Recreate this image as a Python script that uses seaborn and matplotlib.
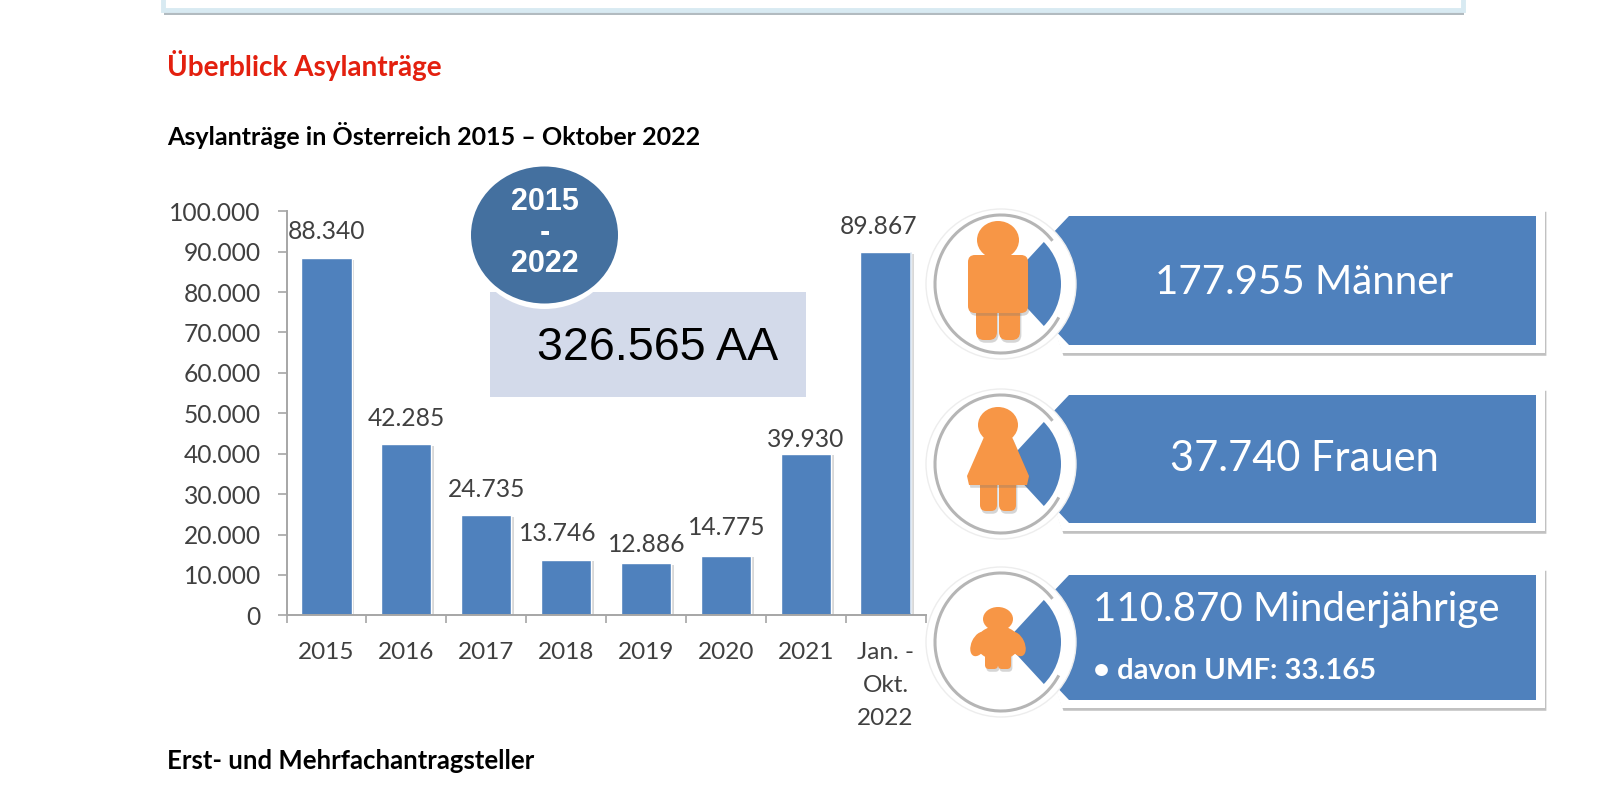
import numpy as np
import pandas as pd
import matplotlib
matplotlib.use('Agg')
import matplotlib.pyplot as plt
import matplotlib.patheffects as pe
from matplotlib.patches import Arc, Circle, Ellipse, Polygon, Rectangle, FancyBboxPatch
from matplotlib.ticker import FuncFormatter
import seaborn as sns

# data
periods = ['2015', '2016', '2017', '2018', '2019', '2020', '2021', 'Jan. -\nOkt.\n2022']
antraege = [88340, 42285, 24735, 13746, 12886, 14775, 39930, 89867]
value_labels = ['88.340', '42.285', '24.735', '13.746', '12.886', '14.775', '39.930', '89.867']
# label shift against the bar top, in pixels
label_dx = [0, 0, 0, -8, 1, 1, 0, -7]
label_dy = [27, 26, 26, 26, 19, 28, 14, 26]

BLUE = '#4F81BD'
ORANGE = '#F79646'
GREY_TXT = '#404040'
W, H = 1616, 809

sns.set_theme(style='white')
plt.rcParams['font.family'] = ['Lato', 'DejaVu Sans']

fig = plt.figure(figsize=(W / 100, H / 100), dpi=100, facecolor='white')

# bar chart, placed in pixels
ax = fig.add_axes([286.5 / W, 1 - 615.3 / H, 639 / W, 404 / H])
df = pd.DataFrame({'period': periods, 'antraege': antraege})
sns.barplot(data=df, x='period', y='antraege', color=BLUE, saturation=1, width=0.63, ax=ax)
ax.set_ylim(0, 100000)
ax.set_xlim(-0.5, 7.5)
ax.set_xlabel('')
ax.set_ylabel('')
ax.set_yticks(np.arange(0, 100001, 10000))
ax.yaxis.set_major_formatter(FuncFormatter(lambda v, p: f'{int(v):,}'.replace(',', '.')))
ax.set_xticks(np.arange(-0.5, 8), minor=True)
ax.tick_params(axis='x', which='major', length=0, pad=19.5, labelsize=17.5, labelcolor=GREY_TXT)
ax.tick_params(axis='x', which='minor', length=6, width=1.2, color='#a6a6a6', bottom=True)
ax.tick_params(axis='y', length=6.5, width=1.2, color='#a6a6a6', pad=12, labelsize=17.7,
               labelcolor=GREY_TXT, left=True)
for lab in ax.get_xticklabels():
    lab.set_linespacing(1.7)
sns.despine(ax=ax)
for s in ['left', 'bottom']:
    ax.spines[s].set_color('#a6a6a6')
    ax.spines[s].set_linewidth(1.4)
for bar in ax.patches:
    bar.set_path_effects([pe.SimplePatchShadow(offset=(2, -1), shadow_rgbFace='#808080', alpha=0.3), pe.Normal()])
for i, v in enumerate(antraege):
    ax.annotate(value_labels[i], (i, v), xytext=(label_dx[i] * 0.72, label_dy[i] * 0.72),
                textcoords='offset points', ha='center', va='center', fontsize=17.7, color=GREY_TXT,
                annotation_clip=False)

# everything around the chart, drawn in pixel coordinates
ov = fig.add_axes([0, 0, 1, 1], zorder=5)
ov.set_xlim(0, W)
ov.set_ylim(H, 0)
ov.axis('off')
ov.patch.set_alpha(0)

# box cut off at the top
ov.add_patch(Rectangle((164, -20), 1300, 35, fc='#7f8f96', ec='none', alpha=0.6))
ov.add_patch(Rectangle((163, -20), 1300, 30, fc='white', ec='#D8EAF2', lw=3.5))

ov.text(167, 65, 'Überblick Asylanträge', color='#E3200F', fontsize=20.1, fontweight='bold', va='center')
ov.text(167, 135, 'Asylanträge in Österreich 2015 – Oktober 2022', color='black', fontsize=18,
        fontweight='bold', va='center')
ov.text(167, 761, 'Erst- und Mehrfachantragsteller', color='black', fontsize=18.5, fontweight='bold', va='center')

# total box with round badge
ov.add_patch(Rectangle((489.5, 292), 316.5, 105, fc='#D3DAEA', ec='none'))
ov.text(658, 348, '326.565 AA', fontsize=33.6, family='Liberation Sans', color='black', ha='center', va='center')
ov.add_patch(Ellipse((544.5, 238), 150, 142, fc='white', ec='none'))
ov.add_patch(Ellipse((544.5, 235), 147, 137, fc='#44709F', ec='none'))
ov.text(544.5, 233, '2015\n-\n2022', fontsize=22, fontweight='bold', family='Liberation Sans', color='white',
        ha='center', va='center', linespacing=1.05)

# thin frame line behind the badges
ov.plot([911, 911], [253, 613], color='#DCE6F2', lw=1.2)


def callout(top, bot, cy):
    cx = 1001
    ov.add_patch(Polygon([(1070, top - 7), (1545, top - 7), (1545, bot + 8), (1062, bot + 8), (1040, cy)],
                         fc='white', ec='none',
                         path_effects=[pe.SimplePatchShadow(offset=(1, -2), shadow_rgbFace='#666666', alpha=0.4),
                                       pe.Normal()]))
    ov.add_patch(Polygon([(1069, top), (1536, top), (1536, bot), (1069, bot), (1050, bot - 20), (1050, top + 20)],
                         fc=BLUE, ec='none'))
    # faint halo, white ring, grey arc on the open side
    ov.add_patch(Circle((cx, cy), 75, fc='white', ec='#ededed', lw=1))
    ov.add_patch(Arc((cx, cy), 132, 138, theta1=30, theta2=320, color='#b5b5b5', lw=2.2))
    clip = Circle((cx, cy), 60, transform=ov.transData)
    wedge = Polygon([(1005, cy), (1090, cy - 92), (1090, cy + 92)], fc=BLUE, ec='none')
    ov.add_patch(wedge)
    wedge.set_clip_path(clip)


callout(216, 345, 284)
callout(395, 523, 464)
callout(575, 700, 642)

# figures
shadow = [pe.SimplePatchShadow(offset=(1, -2), shadow_rgbFace='#777777', alpha=0.3), pe.Normal()]
def orange_box(x, y, w, h, r=5):
    ov.add_patch(FancyBboxPatch((x + r, y + r), w - 2 * r, h - 2 * r, boxstyle=f'round,pad={r}', fc=ORANGE,
                                ec='none', path_effects=shadow))

# man
orange_box(976, 300, 21, 40, r=8)
orange_box(999, 300, 21, 40, r=8)
orange_box(968, 255, 60, 58, r=7)
ov.add_patch(Ellipse((998, 240), 42, 38, fc=ORANGE, ec='none'))
# woman
orange_box(980, 478, 17, 33, r=6)
orange_box(999, 478, 17, 33, r=6)
ov.add_patch(Polygon([(984, 437), (1012, 437), (1029, 476), (1027, 485), (969, 485), (967, 476)], fc=ORANGE,
                     ec='none', path_effects=shadow))
ov.add_patch(Ellipse((998, 425), 40, 36, fc=ORANGE, ec='none'))
# child
orange_box(985, 650, 13, 19, r=4)
orange_box(998, 650, 13, 19, r=4)
ov.add_patch(Ellipse((998, 643), 44, 34, fc=ORANGE, ec='none'))
ov.add_patch(Ellipse((979, 644), 15, 26, angle=25, fc=ORANGE, ec='none'))
ov.add_patch(Ellipse((1017, 644), 15, 26, angle=-25, fc=ORANGE, ec='none'))
ov.add_patch(Ellipse((998, 619), 30, 24, fc=ORANGE, ec='none'))

# callout texts
ov.text(1304, 282, '177.955 Männer', fontsize=29, color='white', ha='center', va='center')
ov.text(1304, 459, '37.740 Frauen', fontsize=30, color='white', ha='center', va='center')
ov.text(1093, 610, '110.870 Minderjährige', fontsize=29, color='white', ha='left', va='center')
ov.text(1093, 671, '• davon UMF: 33.165', fontsize=21, fontweight='bold', color='white', ha='left', va='center')

fig.savefig('out.png', dpi=100)
